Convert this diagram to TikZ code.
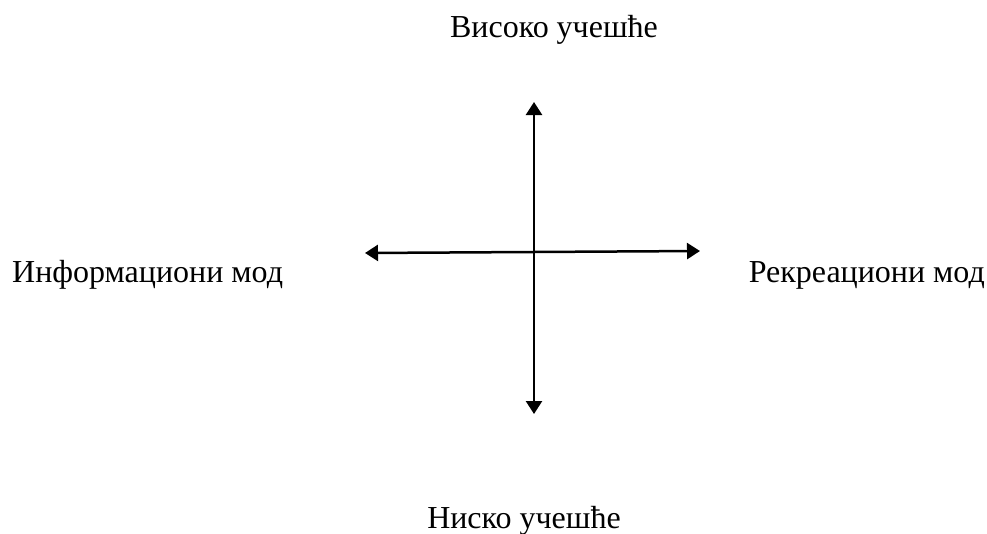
\documentclass[tikz,border=0pt]{standalone}
\usepackage{fontspec}
\setmainfont{Liberation Serif}
\usetikzlibrary{arrows.meta, positioning}
\tikzset{
    x=1pt, y=-1pt,
    axis_label/.style={
        inner sep=0pt,
        font=\fontsize{32}{36}\selectfont
    },
    axis_arrow/.style={
        {Triangle[length=13pt, width=16pt]}-{Triangle[length=13pt, width=16pt]},
        line width=2.5pt
    }
}
\begin{document}
\begin{tikzpicture}
\useasboundingbox (0,0) rectangle (987,533);

% --- Labels ---
\node[axis_label, anchor=base] (high) at (554,37) {Високо учешће};
\node[axis_label, anchor=base] (low) at (524,528) {Ниско учешће};
\node[axis_label, anchor=base west] (info) at (12,282) {Информациони мод};
\node[axis_label, anchor=base east] (recr) at (985,282) {Рекреациони мод};

% --- Arrow ends ---
\coordinate (top) at (534,102);
\coordinate (bottom) at (534,414);
\coordinate (left) at (365,253);
\coordinate (right) at (700,251);

% --- Axes ---
\draw[axis_arrow] (bottom) -- (top);
\draw[axis_arrow] (left) -- (right);

\end{tikzpicture}
\end{document}
